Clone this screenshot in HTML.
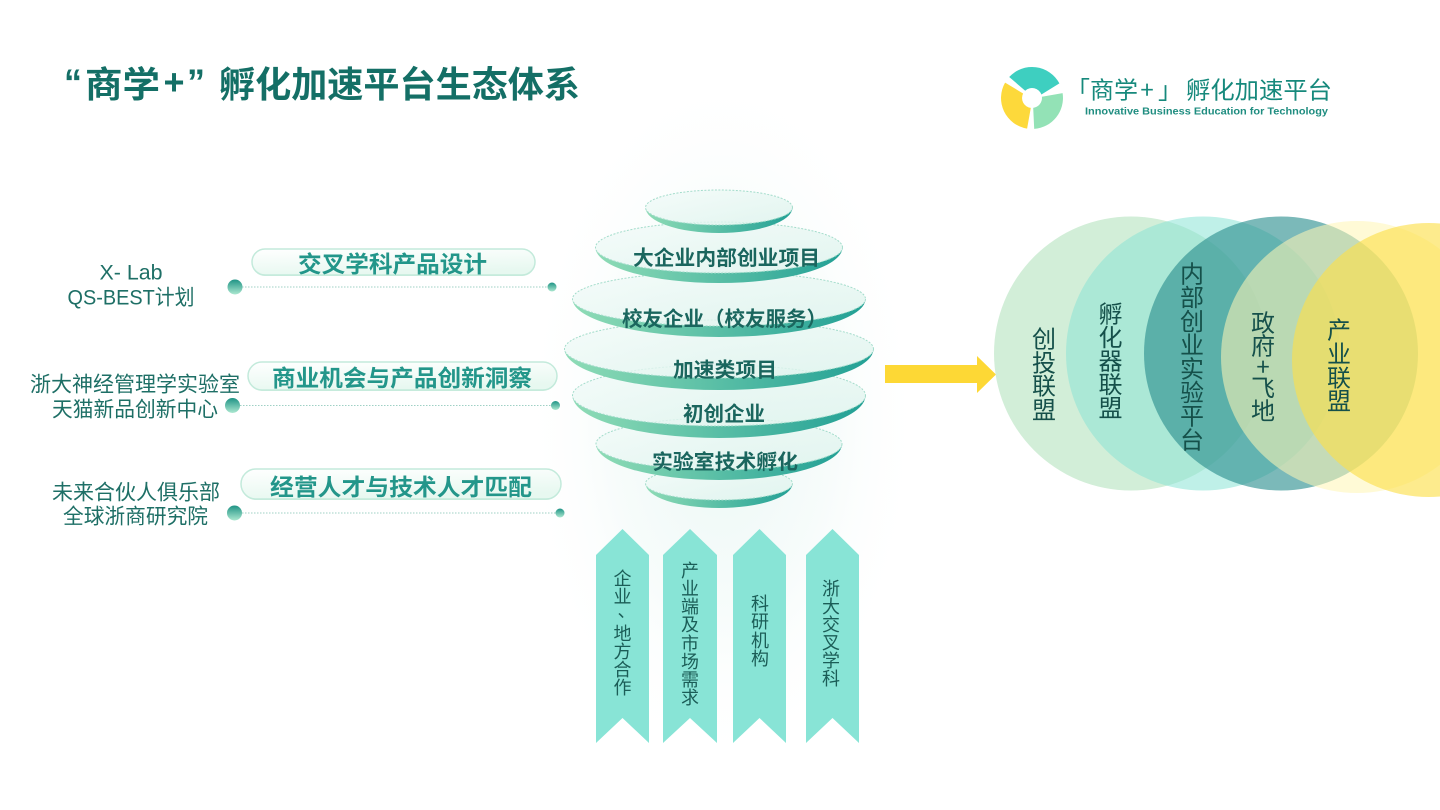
<!DOCTYPE html>
<html><head><meta charset="utf-8"><style>
html,body{margin:0;padding:0;background:#fff;}
body{width:1440px;height:810px;overflow:hidden;position:relative;}
svg{position:absolute;left:0;top:0;}
.cj{font-family:"Noto Sans CJK SC","Liberation Sans",sans-serif;}
.lb{font-family:"Liberation Sans","Noto Sans CJK SC",sans-serif;}
</style></head><body>
<svg xmlns="http://www.w3.org/2000/svg" width="1440" height="810" viewBox="0 0 1440 810">
<defs>
 <radialGradient id="glow" cx="50%" cy="50%" r="50%">
  <stop offset="0" stop-color="#dcf2ee" stop-opacity="0.6"/>
  <stop offset="0.55" stop-color="#e8f6f3" stop-opacity="0.35"/>
  <stop offset="1" stop-color="#ffffff" stop-opacity="0"/>
 </radialGradient>
 <linearGradient id="rim" x1="0" x2="1" y1="0" y2="0">
  <stop offset="0" stop-color="#8fdcb6"/>
  <stop offset="1" stop-color="#22a095"/>
 </linearGradient>
 <linearGradient id="top" x1="0" y1="0" x2="1" y2="1">
  <stop offset="0" stop-color="#f3fbf9"/>
  <stop offset="1" stop-color="#dcf3ec"/>
 </linearGradient>
 <linearGradient id="dotg" x1="0" y1="0" x2="0" y2="1">
  <stop offset="0" stop-color="#1f9385"/>
  <stop offset="1" stop-color="#ace8d0"/>
 </linearGradient>
 <linearGradient id="pill" x1="0" y1="0" x2="0.3" y2="1">
  <stop offset="0" stop-color="#ffffff"/>
  <stop offset="1" stop-color="#e7f8f0"/>
 </linearGradient>
</defs>

<!-- glow behind stack -->
<ellipse cx="722" cy="420" rx="200" ry="350" fill="url(#glow)"/>

<!-- title -->
<g class="lb" font-weight="bold" fill="#146f66" font-size="36">
 <text x="82" y="82" text-anchor="end" dominant-baseline="central">“</text>
 <text class="cj" x="85" y="82" dominant-baseline="central" textLength="75" lengthAdjust="spacingAndGlyphs">商学</text>
 <text x="174" y="82" text-anchor="middle" dominant-baseline="central">+</text>
 <text x="187" y="82" dominant-baseline="central">”</text>
 <text class="cj" x="219" y="82" dominant-baseline="central" textLength="361" lengthAdjust="spacingAndGlyphs">孵化加速平台生态体系</text>
</g>

<!-- logo icon -->
<g transform="translate(1032,98)">
 <path d="M-22.8,-21 A31,31 0 0 1 27.4,-14.6 L9.4,-3.5 A10,10 0 0 0 -6.8,-7.3 Z" fill="#3ecfc0"/>
 <path d="M30.6,-4.9 A31,31 0 0 1 2.2,30.9 L1.2,9.9 A10,10 0 0 0 9.9,-1.2 Z" fill="#93e2b6"/>
 <path d="M-4.9,30.6 A31,31 0 0 1 -26.9,-15.4 L-8.9,-4.5 A10,10 0 0 0 -1.2,9.9 Z" fill="#fdd93b"/>
</g>
<g class="cj" fill="#16897c" font-size="24">
 <text x="1090" y="88" text-anchor="end" dominant-baseline="central">「</text>
 <text x="1090" y="88" dominant-baseline="central" textLength="48" lengthAdjust="spacingAndGlyphs">商学</text>
 <text x="1147" y="88" text-anchor="middle" dominant-baseline="central">+</text>
 <text x="1158" y="88" dominant-baseline="central">」</text>
 <text x="1186" y="88" dominant-baseline="central" textLength="146" lengthAdjust="spacingAndGlyphs">孵化加速平台</text>
</g>
<text class="lb" x="1085" y="112" font-size="10" font-weight="bold" fill="#1f8d80" dominant-baseline="central" textLength="243" lengthAdjust="spacingAndGlyphs">Innovative Business Education for Technology</text>

<!-- left labels -->
<g class="lb" fill="#1e6f66" font-size="21" text-anchor="middle">
 <text x="131" y="273" dominant-baseline="central" textLength="63" lengthAdjust="spacingAndGlyphs">X- Lab</text>
 <text x="131" y="298" dominant-baseline="central" textLength="127" lengthAdjust="spacingAndGlyphs">QS-BEST计划</text>
 <text x="135" y="385" dominant-baseline="central" textLength="210" lengthAdjust="spacingAndGlyphs">浙大神经管理学实验室</text>
 <text x="135" y="410" dominant-baseline="central" textLength="166" lengthAdjust="spacingAndGlyphs">天猫新品创新中心</text>
 <text x="136" y="493" dominant-baseline="central" textLength="168" lengthAdjust="spacingAndGlyphs">未来合伙人俱乐部</text>
 <text x="135.5" y="517" dominant-baseline="central" textLength="145" lengthAdjust="spacingAndGlyphs">全球浙商研究院</text>
</g>

<!-- pills -->
<g>
 <rect x="252" y="250" width="283" height="26" rx="13" fill="#cdeede"/>
 <rect x="252" y="249" width="283" height="26" rx="13" fill="url(#pill)" stroke="#c3eadb" stroke-width="1.5"/>
 <rect x="248" y="363" width="309" height="28" rx="14" fill="#cdeede"/>
 <rect x="248" y="362" width="309" height="28" rx="14" fill="url(#pill)" stroke="#c3eadb" stroke-width="1.5"/>
 <rect x="241" y="470" width="320" height="30" rx="15" fill="#cdeede"/>
 <rect x="241" y="469" width="320" height="30" rx="15" fill="url(#pill)" stroke="#c3eadb" stroke-width="1.5"/>
</g>
<g class="cj" fill="#23968a" font-size="23" font-weight="bold">
 <text x="298" y="262" dominant-baseline="central" textLength="189" lengthAdjust="spacingAndGlyphs">交叉学科产品设计</text>
 <text x="272" y="376" dominant-baseline="central" textLength="260" lengthAdjust="spacingAndGlyphs">商业机会与产品创新洞察</text>
 <text x="270" y="485" dominant-baseline="central" textLength="262" lengthAdjust="spacingAndGlyphs">经营人才与技术人才匹配</text>
</g>

<!-- connectors -->
<g stroke="#9fd0c5" stroke-width="1" stroke-dasharray="1.5 1.5" fill="none">
 <line x1="242" y1="287" x2="548" y2="287"/>
 <line x1="240" y1="405.5" x2="551" y2="405.5"/>
 <line x1="242" y1="513" x2="556" y2="513"/>
</g>
<g fill="url(#dotg)">
 <circle cx="235" cy="287" r="7.5"/>
 <circle cx="232.5" cy="405.5" r="7.5"/>
 <circle cx="234.5" cy="513" r="7.5"/>
 <circle cx="552" cy="287" r="4.5"/>
 <circle cx="555.5" cy="405.5" r="4.5"/>
 <circle cx="560" cy="513" r="4.5"/>
</g>

<!-- disc stack (bottom to top) -->
<g stroke-linejoin="round">
 <!-- 7 -->
 <path d="M645.5,483.5 A73.5,24.5 0 0 0 792.5,483.5 A73.5,16.5 0 0 1 645.5,483.5 Z" fill="url(#rim)"/>
 <ellipse cx="719" cy="483.5" rx="73.5" ry="16.5" fill="url(#top)" fill-opacity="0.8" stroke="#a3dccb" stroke-width="1" stroke-dasharray="2 1.5"/>
 <!-- 6 -->
 <path d="M596,444 A123,36 0 0 0 842,444 A123,26 0 0 1 596,444 Z" fill="url(#rim)"/>
 <ellipse cx="719" cy="444" rx="123" ry="26" fill="url(#top)" fill-opacity="0.8" stroke="#a3dccb" stroke-width="1" stroke-dasharray="2 1.5"/>
 <!-- 5 -->
 <path d="M572.5,395.5 A146.5,42.5 0 0 0 865.5,395.5 A146.5,30.5 0 0 1 572.5,395.5 Z" fill="url(#rim)"/>
 <ellipse cx="719" cy="395.5" rx="146.5" ry="30.5" fill="url(#top)" fill-opacity="0.8" stroke="#a3dccb" stroke-width="1" stroke-dasharray="2 1.5"/>
 <!-- 4 -->
 <path d="M564.5,349 A154.5,41 0 0 0 873.5,349 A154.5,29 0 0 1 564.5,349 Z" fill="url(#rim)"/>
 <ellipse cx="719" cy="349" rx="154.5" ry="29" fill="url(#top)" fill-opacity="0.8" stroke="#a3dccb" stroke-width="1" stroke-dasharray="2 1.5"/>
 <!-- 3 -->
 <path d="M572.5,299 A146.5,38 0 0 0 865.5,299 A146.5,27 0 0 1 572.5,299 Z" fill="url(#rim)"/>
 <ellipse cx="719" cy="299" rx="146.5" ry="27" fill="url(#top)" fill-opacity="0.8" stroke="#a3dccb" stroke-width="1" stroke-dasharray="2 1.5"/>
 <!-- 2 -->
 <path d="M595.5,247.5 A123.5,35.5 0 0 0 842.5,247.5 A123.5,25.5 0 0 1 595.5,247.5 Z" fill="url(#rim)"/>
 <ellipse cx="719" cy="247.5" rx="123.5" ry="25.5" fill="url(#top)" fill-opacity="0.8" stroke="#a3dccb" stroke-width="1" stroke-dasharray="2 1.5"/>
 <!-- 1 -->
 <path d="M645.5,207.5 A73.5,25.5 0 0 0 792.5,207.5 A73.5,17.5 0 0 1 645.5,207.5 Z" fill="url(#rim)"/>
 <ellipse cx="719" cy="207.5" rx="73.5" ry="17.5" fill="url(#top)" fill-opacity="0.8" stroke="#a3dccb" stroke-width="1" stroke-dasharray="2 1.5"/>
</g>
<g class="cj" fill="#1a665e" font-size="20.5" font-weight="bold" text-anchor="middle">
 <text x="726.5" y="256" dominant-baseline="central" textLength="187" lengthAdjust="spacingAndGlyphs">大企业内部创业项目</text>
 <text x="724.5" y="317" dominant-baseline="central" textLength="205" lengthAdjust="spacingAndGlyphs">校友企业（校友服务）</text>
 <text x="725" y="368" dominant-baseline="central" textLength="104" lengthAdjust="spacingAndGlyphs">加速类项目</text>
 <text x="724" y="412" dominant-baseline="central" textLength="82" lengthAdjust="spacingAndGlyphs">初创企业</text>
 <text x="725" y="460" dominant-baseline="central" textLength="146" lengthAdjust="spacingAndGlyphs">实验室技术孵化</text>
</g>

<!-- ribbons -->
<g fill="#88e4d6">
 <polygon points="596,555 622.5,529 649,555 649,743 622.5,718 596,743"/>
 <polygon points="663,555 690,529 717,555 717,743 690,718 663,743"/>
 <polygon points="733,555 759.5,529 786,555 786,743 759.5,718 733,743"/>
 <polygon points="806,555 832.5,529 859,555 859,743 832.5,718 806,743"/>
</g>
<g class="cj" fill="#1b5d57" font-size="18" text-anchor="middle">
 <text x="622.5" y="578" dominant-baseline="central">企</text>
 <text x="622.5" y="596" dominant-baseline="central">业</text>
 <text x="626.5" y="610" dominant-baseline="central">、</text>
 <text x="622.5" y="633" dominant-baseline="central">地</text>
 <text x="622.5" y="651" dominant-baseline="central">方</text>
 <text x="622.5" y="669" dominant-baseline="central">合</text>
 <text x="622.5" y="687" dominant-baseline="central">作</text>

 <text x="690" y="570" dominant-baseline="central">产</text>
 <text x="690" y="588" dominant-baseline="central">业</text>
 <text x="690" y="606" dominant-baseline="central">端</text>
 <text x="690" y="624" dominant-baseline="central">及</text>
 <text x="690" y="643" dominant-baseline="central">市</text>
 <text x="690" y="661" dominant-baseline="central">场</text>
 <text x="690" y="679" dominant-baseline="central">需</text>
 <text x="690" y="697" dominant-baseline="central">求</text>

 <text x="760" y="603" dominant-baseline="central">科</text>
 <text x="760" y="621" dominant-baseline="central">研</text>
 <text x="760" y="640" dominant-baseline="central">机</text>
 <text x="760" y="658" dominant-baseline="central">构</text>

 <text x="831" y="588" dominant-baseline="central">浙</text>
 <text x="831" y="606" dominant-baseline="central">大</text>
 <text x="831" y="624" dominant-baseline="central">交</text>
 <text x="831" y="642" dominant-baseline="central">叉</text>
 <text x="831" y="660" dominant-baseline="central">学</text>
 <text x="831" y="678" dominant-baseline="central">科</text>
</g>

<!-- arrow -->
<polygon points="885,365 977,365 977,356 996,374.5 977,393 977,383 885,383" fill="#fdd835"/>

<!-- circles -->
<circle cx="1131" cy="353.5" r="137" fill="#d2eed8"/>
<circle cx="1203" cy="353.5" r="137" fill="rgb(138,227,213)" fill-opacity="0.55"/>
<circle cx="1281" cy="353.5" r="137" fill="rgb(42,142,142)" fill-opacity="0.62"/>
<circle cx="1357" cy="357" r="136" fill="rgb(255,246,182)" fill-opacity="0.56"/>
<circle cx="1429" cy="360" r="137" fill="rgb(252,223,75)" fill-opacity="0.63"/>

<g class="cj" fill="#15504a" font-size="24" text-anchor="middle">
 <text x="1044" y="337" dominant-baseline="central">创</text>
 <text x="1044" y="361" dominant-baseline="central">投</text>
 <text x="1044" y="384" dominant-baseline="central">联</text>
 <text x="1044" y="408" dominant-baseline="central">盟</text>

 <text x="1110.5" y="312" dominant-baseline="central">孵</text>
 <text x="1110.5" y="335.5" dominant-baseline="central">化</text>
 <text x="1110.5" y="359" dominant-baseline="central">器</text>
 <text x="1110.5" y="382.5" dominant-baseline="central">联</text>
 <text x="1110.5" y="406" dominant-baseline="central">盟</text>

 <text x="1192" y="272" dominant-baseline="central">内</text>
 <text x="1192" y="295.7" dominant-baseline="central">部</text>
 <text x="1192" y="319.4" dominant-baseline="central">创</text>
 <text x="1192" y="343.1" dominant-baseline="central">业</text>
 <text x="1192" y="366.8" dominant-baseline="central">实</text>
 <text x="1192" y="390.5" dominant-baseline="central">验</text>
 <text x="1192" y="414.2" dominant-baseline="central">平</text>
 <text x="1192" y="438" dominant-baseline="central">台</text>

 <text x="1263" y="321" dominant-baseline="central">政</text>
 <text x="1263" y="344" dominant-baseline="central">府</text>
 <text x="1263" y="365" dominant-baseline="central">+</text>
 <text x="1263" y="386" dominant-baseline="central">飞</text>
 <text x="1263" y="409" dominant-baseline="central">地</text>

 <text x="1339" y="328" dominant-baseline="central">产</text>
 <text x="1339" y="352" dominant-baseline="central">业</text>
 <text x="1339" y="376" dominant-baseline="central">联</text>
 <text x="1339" y="399" dominant-baseline="central">盟</text>
</g>
</svg>
</body></html>
